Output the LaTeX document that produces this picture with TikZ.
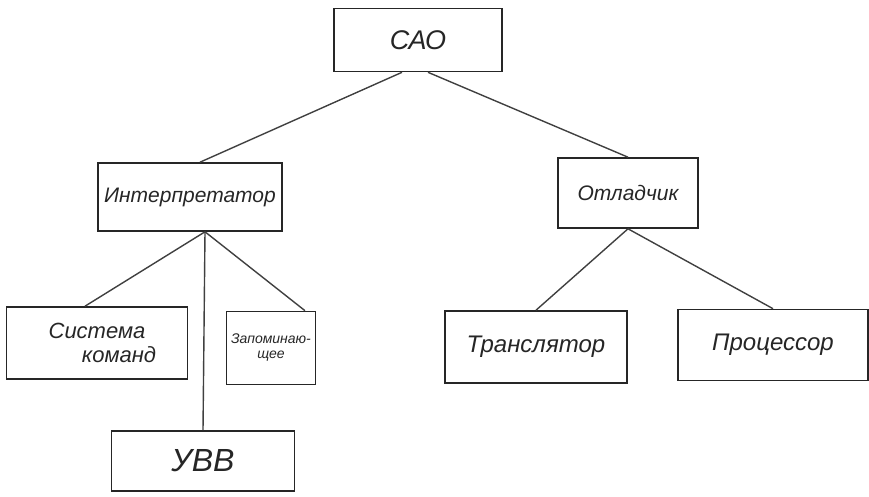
\documentclass[tikz,border=0pt]{standalone}
\usepackage{fontspec}
\setmainfont{Liberation Sans}
\usetikzlibrary{calc}
\tikzset{
  blok/.style={draw=black!85, line width=1.6pt, inner sep=2pt, align=center,
    font=\itshape\fontsize{21}{21}\selectfont, text=black!85},
  vetv/.style={draw=black!75, line width=1.4pt}
}
\begin{document}
\begin{tikzpicture}[x=1pt,y=-1pt]
                \useasboundingbox (0,0) rectangle (869,497) ;
                % boxes
                \node[blok, minimum width=168pt, minimum height=63pt, font=\itshape\fontsize{27}{27}\selectfont] (cao) at (418,40) {САО} ;
                \node[blok, minimum width=184pt, minimum height=68pt] (int) at (190,197) {Интерпретатор} ;
                \node[blok, minimum width=140pt, minimum height=70pt] (otl) at (628,193) {Отладчик} ;
                \node[blok, minimum width=181pt, minimum height=72pt, font=\itshape\fontsize{22}{24}\selectfont] (sist) at (97,343) {Система\\\hspace*{2em}команд} ;
                \node[blok, minimum width=89pt, minimum height=73pt, inner sep=0pt, font=\itshape\fontsize{14}{15}\selectfont] (zap) at (271,348) {Запоминаю-\\щее} ;
                \node[blok, minimum width=183pt, minimum height=60pt, font=\itshape\fontsize{32}{32}\selectfont] (uvv) at (203,461) {УВВ} ;
                \node[blok, minimum width=182pt, minimum height=72pt, font=\itshape\fontsize{24}{24}\selectfont] (tra) at (536,347) {Транслятор} ;
                \node[blok, minimum width=190pt, minimum height=71pt, font=\itshape\fontsize{24}{24}\selectfont] (pro) at (773,345) {Процессор} ;
                % branches
                \draw[vetv] ([xshift=-16pt]cao.south) -- ([xshift=10pt]int.north) ;
                \draw[vetv] ([xshift=10pt]cao.south) -- (otl.north) ;
                \draw[vetv] ([xshift=15pt]int.south) -- ([xshift=-12pt]sist.north) ;
                \draw[vetv] ([xshift=15pt]int.south) -- (uvv.north) ;
                \draw[vetv] ([xshift=15pt]int.south) -- ([xshift=34pt]zap.north) ;
                \draw[vetv] (otl.south) -- (tra.north) ;
                \draw[vetv] (otl.south) -- (pro.north) ;
\end{tikzpicture}
\end{document}
